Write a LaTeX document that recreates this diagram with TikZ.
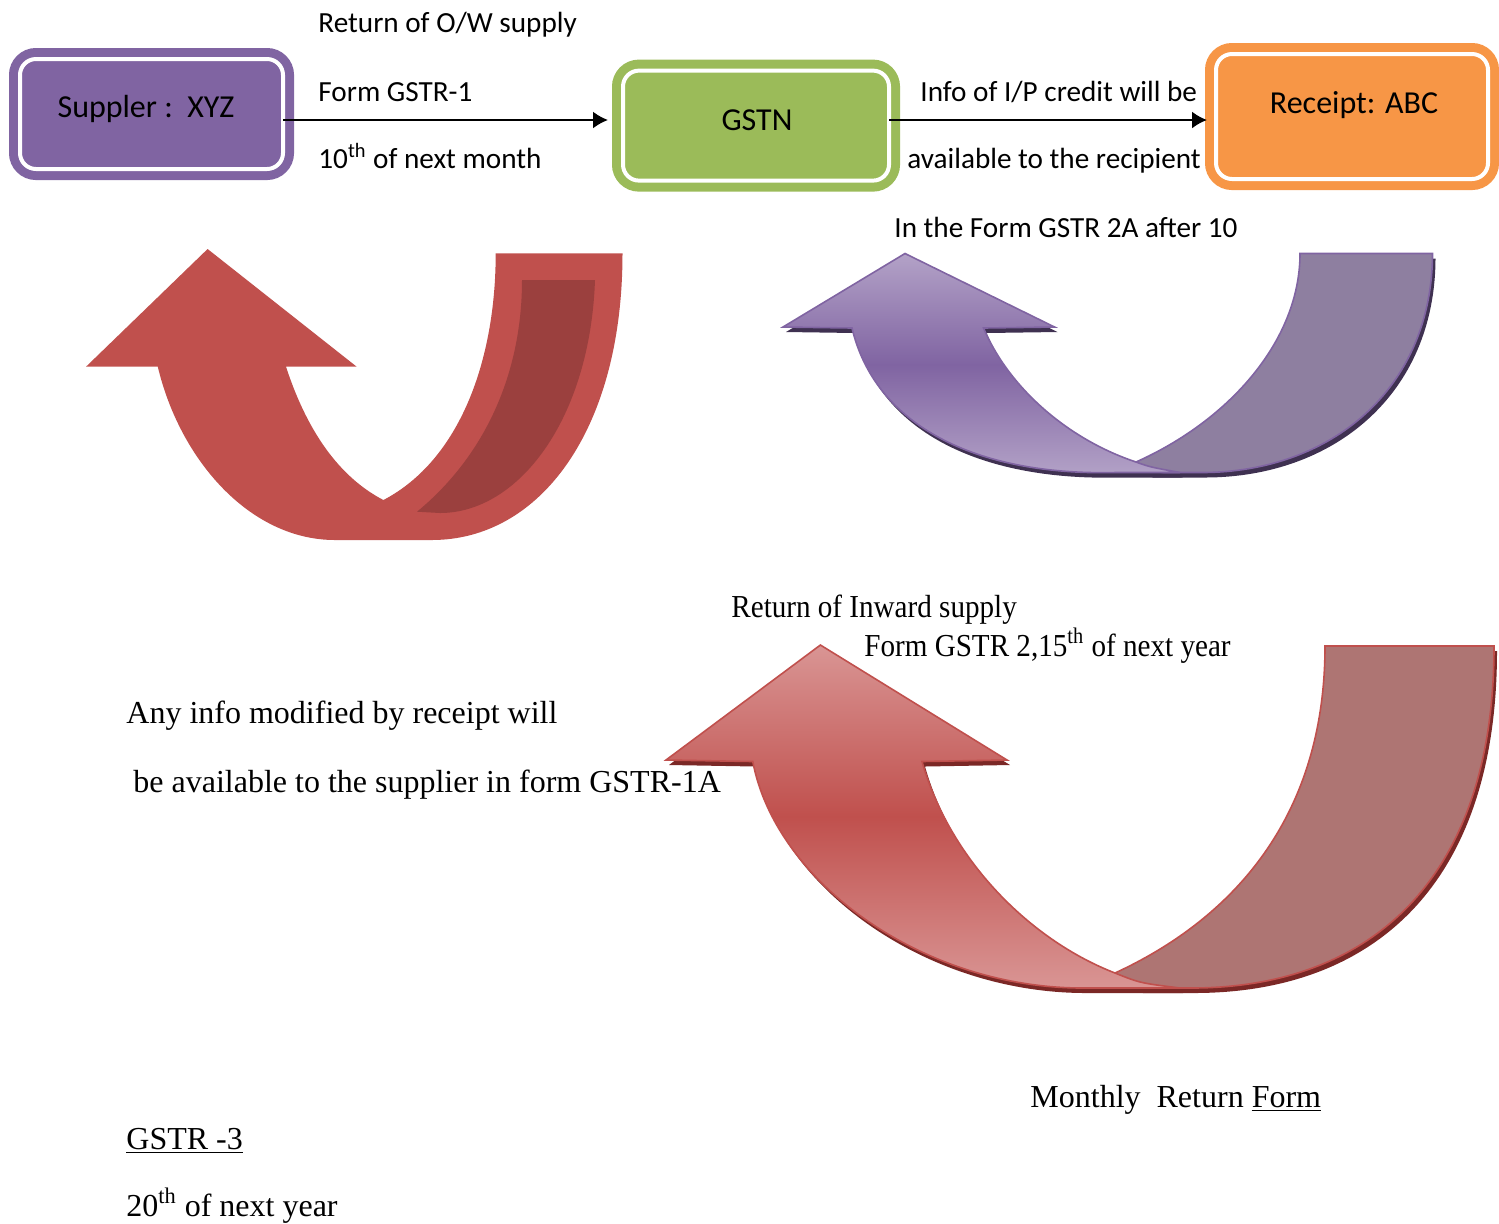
\documentclass[tikz,border=0pt]{standalone}
\usepackage{fontspec}
\setmainfont{Liberation Serif}
\newfontfamily\calfont{Carlito}
\newfontfamily\narrowserif[FakeStretch=0.91]{Liberation Serif}
\usetikzlibrary{arrows.meta,shadows}

\definecolor{boxpurple}{HTML}{8064A2}
\definecolor{boxgreen}{HTML}{9BBB59}
\definecolor{boxorange}{HTML}{F79646}
\definecolor{arrred}{HTML}{C0504D}
\definecolor{arrreddark}{HTML}{9B403E}
\definecolor{arrredback}{HTML}{AE7573}
\definecolor{arrredlight}{HTML}{D99594}
\definecolor{arrredshadow}{HTML}{7B2826}
\definecolor{arrpurplelight}{HTML}{B3A2C7}
\definecolor{arrpurpleback}{HTML}{8E7FA0}
\definecolor{arrpurpleshadow}{HTML}{3F3151}

\tikzset{
  gbox/.style={rounded corners=8pt, fill=#1, draw=white, line width=2pt,
    preaction={draw=#1, line width=11pt}, outer sep=0pt},
  boxlbl/.style={font=\calfont\fontsize{16}{19}\selectfont, anchor=base, inner sep=0pt},
  note/.style={font=\calfont\fontsize{14.6}{17}\selectfont, anchor=base west, inner sep=0pt},
  snote/.style={font=\fontsize{16}{19}\selectfont, anchor=base west, inner sep=0pt},
  flow/.style={line width=1pt, -{Latex[length=7.5pt,width=8.5pt]}},
  pshadow/.style={drop shadow={shadow xshift=1.5pt, shadow yshift=-2.5pt, fill=#1, opacity=1}},
}

\begin{document}
\begin{tikzpicture}[x=0.5pt,y=-0.5pt]
    \useasboundingbox (0,0) rectangle (1499,1223);

    % boxes
    \node[gbox=boxpurple, minimum width=131.5pt, minimum height=55pt] (sup) at (151.5,114) {};
    \node[gbox=boxgreen, minimum width=133pt, minimum height=55pt] (gstn) at (756,125.6) {};
    \node[gbox=boxorange, minimum width=136pt, minimum height=62.5pt] (rcv) at (1352,116.5) {};

    \node[boxlbl] (suplbl) at (146,117) {Suppler :\ \ XYZ};
    \node[boxlbl] (gstnlbl) at (757,130) {GSTN};
    \node[boxlbl] (rcvlbl) at (1354,113) {Receipt: ABC};

    \draw[flow, shorten >=7.5pt] ([yshift=-3pt]sup.east) -- ([yshift=-3pt]sup.east -| gstn.west);
    \draw[flow, shorten >=4.5pt] ([yshift=2.8pt]gstn.east) -- ([yshift=2.8pt]gstn.east -| rcv.west);

    \node[note] (owret) at (318,32) {Return of O/W supply};
    \node[note] (form1) at (318,101) {Form GSTR-1};
    \node[note] (due1) at (318,168) {10\textsuperscript{th} of next month};
    \node[note] (itc) at (920,101) {Info of I/P credit will be};
    \node[note] (avail) at (907,168) {available to the recipient};
    \node[note] (gstr2a) at (894,237) {In the Form GSTR 2A after 10};

    % red curved arrow, top left
    \fill[arrred] (86,366.7) -- (207.6,249) -- (356.7,366.7) -- (286,366.7)
        .. controls (310,440) and (345,480) .. (383.4,500)
        .. controls (460,460) and (495.7,360) .. (495.7,253.3) -- (622.5,253.3)
        .. controls (622.5,430) and (540,540) .. (431.8,540) -- (335,540)
        .. controls (250,540) and (180,460) .. (157.8,366.7) -- cycle;
    \fill[arrreddark] (522,280) -- (595,280)
        .. controls (590,420) and (518,513) .. (440,513) -- (417,511.7)
        .. controls (480,460) and (522,380) .. (522,280) -- cycle;

    % purple curved arrow
    \filldraw[pshadow=arrpurpleshadow, fill=arrpurpleback, draw=boxpurple, line width=0.8pt]
        (1300,253.5) -- (1432.5,253.5)
        .. controls (1432,390) and (1330,472) .. (1203,472.5) -- (1150,472.5)
        .. controls (1143,470) .. (1136,462)
        .. controls (1230,420) and (1300,340) .. (1300,253.5) -- cycle;
    \shadedraw[pshadow=arrpurpleshadow, top color=arrpurplelight, bottom color=arrpurplelight,
        middle color=boxpurple, draw=boxpurple, line width=0.8pt]
        (783,327) -- (905,253.5) -- (1054.5,327) -- (983.5,328)
        .. controls (1010,390) and (1070,440) .. (1136,462)
        .. controls (1150,467) .. (1180,472.5) -- (1116,472.5)
        .. controls (975,476) and (875,425) .. (852,328) -- cycle;

    % red curved arrow, bottom right
    \filldraw[pshadow=arrredshadow, fill=arrredback, draw=arrred, line width=0.8pt]
        (1325,646) -- (1494,646)
        .. controls (1494,880) and (1370,988) .. (1191,988) -- (1140,988)
        .. controls (1125,984) .. (1115,973)
        .. controls (1230,920) and (1325,820) .. (1325,646) -- cycle;
    \shadedraw[pshadow=arrredshadow, top color=arrredlight, bottom color=arrredlight,
        middle color=arrred, draw=arrred, line width=0.8pt]
        (666,760) -- (820.4,645) -- (1007,760) -- (922,761.5)
        .. controls (950,860) and (1030,940) .. (1115,973)
        .. controls (1140,983) .. (1180,988) -- (1082.8,988)
        .. controls (920,988) and (775,880) .. (752.8,761.5) -- cycle;

    \node[snote, font=\narrowserif\fontsize{16}{19}\selectfont] (inward) at (731,617) {Return of Inward supply};
    \node[snote, font=\narrowserif\fontsize{16}{19}\selectfont] (form2) at (864,656) {Form GSTR 2,15\textsuperscript{th} of next year};
    \node[snote] (modif) at (126,723) {Any info modified by receipt will};
    \node[snote] (avail1a) at (133,792) {be available to the supplier in form GSTR-1A};
    \node[snote] (monthly) at (1030,1107) {Monthly\ \ Return \underline{Form}};
    \node[snote] (gstr3) at (126,1149) {\underline{GSTR -3}};
    \node[snote] (due3) at (126,1216) {20\textsuperscript{th} of next year};
    %\node (extra) at (0,0) {};
\end{tikzpicture}
\end{document}
